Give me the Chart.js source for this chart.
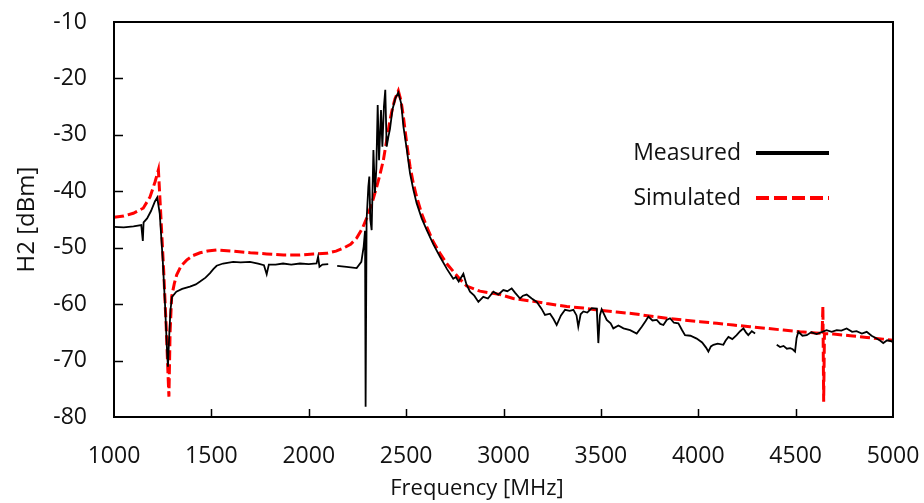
<!DOCTYPE html>
<html>
<head>
<meta charset="utf-8">
<script src="https://cdn.jsdelivr.net/npm/chart.js@4"></script>
<style>
  body { margin: 0; background: #fff; }
  #wrap { width: 924px; height: 503px; }
</style>
</head>
<body>
<div id="wrap"><canvas id="chart" width="924" height="503"></canvas></div>
<script>
// Measured H2 level (null = gap in the trace)
const measFreq = [1000, 1050, 1100, 1140, 1148, 1152, 1170, 1190, 1210, 1222, 1235, 1250, 1262, 1272, 1277, 1283, 1290, 1298, 1320, 1350, 1390, 1420, 1442, 1470, 1493, 1510, 1527, 1560, 1612, 1650, 1698, 1740, 1770, 1784, 1795, 1830, 1868, 1910, 1955, 2000, 2040, 2048, 2055, 2070, 2100,
  2120,
  2146, 2194, 2246, 2270, 2282, 2289, 2292, 2297, 2306, 2311, 2316, 2323, 2332, 2340, 2347, 2354, 2361, 2371, 2378, 2386, 2393, 2400, 2409, 2417, 2430, 2445, 2460, 2475, 2486, 2503, 2520, 2537, 2554, 2580, 2606, 2640, 2674, 2710, 2742, 2755, 2770, 2794, 2810, 2828, 2850, 2871, 2896, 2920, 2948, 2973, 2999, 3020, 3042, 3060, 3085, 3100, 3119, 3145, 3171, 3195, 3213, 3239, 3256, 3273, 3295, 3316, 3340, 3359, 3375, 3384, 3396, 3410, 3430, 3453, 3479, 3487, 3495, 3504, 3530, 3550, 3564, 3590, 3616, 3650, 3684, 3710, 3730, 3744, 3765, 3787, 3805, 3821, 3838, 3855, 3875, 3898, 3915, 3932, 3960, 3992, 4020, 4040, 4052, 4065, 4078, 4100, 4129, 4140, 4155, 4175, 4197, 4215, 4232, 4245, 4257, 4275, 4292,
  4350,
  4403, 4420, 4438, 4455, 4472, 4485, 4497, 4505, 4514, 4535, 4557, 4580, 4608, 4630, 4659, 4685, 4711, 4735, 4762, 4790, 4813, 4840, 4865, 4890, 4916, 4935, 4950, 4970, 4993, 5000];
const measDb = [-46.3, -46.4, -46.2, -46.0, -48.8, -45.5, -44.8, -43.5, -41.8, -41.1, -44, -52, -60, -68, -71.1, -66, -61, -58.7, -57.8, -57.3, -56.9, -56.5, -56.0, -55.3, -54.5, -53.8, -53.2, -52.8, -52.5, -52.6, -52.5, -52.8, -53.1, -54.7, -53.0, -53.0, -52.8, -53.0, -52.8, -52.9, -52.8, -51.6, -53.4, -53.0, -52.9,
  null,
  -53.2, -53.4, -53.6, -52.5, -49.8, -47, -78.2, -45.1, -39.2, -37.4, -45, -46.9, -32.7, -40.3, -36, -24.7, -34.5, -25.6, -32.1, -25.0, -22.0, -32.1, -30.3, -29, -25.5, -23.5, -22.5, -24.5, -28.5, -32.5, -36.8, -39.7, -42.1, -44.8, -46.9, -49.4, -51.6, -53.8, -55.5, -55.2, -56.0, -54.6, -56.5, -57.8, -58.5, -59.6, -58.7, -59.0, -57.8, -58.3, -57.5, -57.7, -57.2, -58.0, -59.0, -58.5, -58.3, -59.0, -59.6, -60.8, -61.9, -61.7, -62.6, -63.7, -62.0, -61.0, -61.2, -61.0, -62.0, -64.0, -61.8, -61.3, -61.5, -60.7, -60.8, -66.9, -62.0, -60.9, -62.8, -63.4, -64.3, -63.8, -64.3, -64.6, -65.2, -64.0, -63.0, -62.2, -62.9, -62.8, -63.5, -63.7, -62.8, -62.5, -63.3, -63.4, -64.5, -65.5, -65.6, -66.1, -66.8, -67.7, -68.4, -67.5, -67.2, -67.0, -67.2, -66.5, -65.8, -66.2, -65.5, -64.8, -64.3, -65.0, -65.5, -64.8, -65.2,
  null,
  -67.2, -67.6, -67.4, -67.9, -67.8, -68.0, -68.4, -66.0, -64.9, -65.6, -65.5, -65.0, -65.3, -65.0, -64.6, -64.9, -64.6, -64.7, -64.3, -64.9, -64.8, -65.2, -64.9, -65.6, -66.1, -66.5, -66.9, -66.4, -66.6, -66.8];

// Simulated H2 level
const simFreq = [1000, 1050, 1099, 1150, 1185, 1211, 1228, 1240, 1255, 1268, 1278, 1282, 1288, 1296, 1310, 1322, 1345, 1373, 1405, 1442, 1480, 1527, 1612, 1700, 1784, 1870, 1955, 2023, 2092, 2140, 2177, 2215, 2246, 2275, 2297, 2323, 2349, 2366, 2383, 2400, 2417, 2432, 2443, 2460, 2474, 2486, 2503, 2520, 2537, 2554, 2580, 2606, 2640, 2674, 2708, 2742, 2780, 2811, 2879, 2982, 3050, 3153, 3222, 3325, 3410, 3496, 3580, 3667, 3750, 3838, 3920, 4009, 4095, 4180, 4265, 4352, 4437, 4523, 4600, 4636, 4640, 4644, 4648, 4694, 4780, 4865, 4950, 5000];
const simDb = [-44.6, -44.4, -43.9, -43.0, -41.0, -38.3, -36.2, -44, -54, -64, -73, -76.4, -65, -58.7, -56.3, -54.8, -53.2, -52.2, -51.4, -50.9, -50.6, -50.4, -50.6, -50.9, -51.1, -51.3, -51.3, -51.1, -51.0, -50.6, -50.1, -49.4, -48.3, -46.6, -44.8, -42.3, -39.2, -37.0, -34.5, -31.0, -27.4, -25.0, -23.6, -22.2, -24.0, -26.8, -31.5, -35.6, -38.6, -41.0, -44.0, -46.3, -49.0, -51.0, -52.8, -54.2, -55.7, -56.8, -57.7, -58.3, -59.0, -59.5, -59.9, -60.4, -60.7, -61.1, -61.4, -61.7, -62.1, -62.5, -62.8, -63.1, -63.4, -63.7, -64.0, -64.3, -64.6, -64.9, -65.1, -65.2, -60.4, -77.3, -65.2, -65.3, -65.6, -65.9, -66.2, -66.4];

const xTicks = [1000, 1500, 2000, 2500, 3000, 3500, 4000, 4500, 5000];
const yTicks = [-80, -70, -60, -50, -40, -30, -20, -10];

const FONT = "'Open Sans', 'Noto Sans', sans-serif";

const toPoints = (xs, ys) => xs.map((x, i) => ({ x: x, y: ys[i] }));

// frame, inward tick marks and the x axis title (sits left of centre)
const framePlugin = {
  id: 'frame',
  afterDraw(chart) {
    const { ctx, chartArea: a, scales } = chart;
    ctx.save();
    ctx.strokeStyle = '#000';
    ctx.lineWidth = 2;
    ctx.strokeRect(a.left, a.top, a.right - a.left, a.bottom - a.top);
    ctx.lineWidth = 1.5;
    ctx.beginPath();
    xTicks.slice(1, -1).forEach(v => {
      const px = Math.round(scales.x.getPixelForValue(v)) + 0.5;
      ctx.moveTo(px, a.bottom);
      ctx.lineTo(px, a.bottom - 8);
    });
    yTicks.slice(1, -1).forEach(v => {
      const py = Math.round(scales.y.getPixelForValue(v)) + 0.5;
      ctx.moveTo(a.left, py);
      ctx.lineTo(a.left + 9, py);
    });
    ctx.stroke();

    ctx.font = '22px ' + FONT;
    ctx.fillStyle = '#111';
    ctx.textAlign = 'center';
    ctx.textBaseline = 'middle';
    ctx.fillText('Frequency [MHz]', 477, 489);
    ctx.restore();
  }
};

// legend: text on the left, line sample on the right
const legendPlugin = {
  id: 'sideLegend',
  afterDraw(chart) {
    const { ctx } = chart;
    const items = chart.data.datasets;
    ctx.save();
    ctx.font = '23px ' + FONT;
    ctx.fillStyle = '#111';
    ctx.textBaseline = 'middle';
    items.forEach((ds, i) => {
      const y = 153 + i * 45;
      ctx.textAlign = 'right';
      ctx.fillText(ds.label, 741, y);
      ctx.strokeStyle = ds.borderColor;
      ctx.lineWidth = 4;
      ctx.setLineDash(ds.borderDash ? [13, 5] : []);
      ctx.beginPath();
      ctx.moveTo(756, y);
      ctx.lineTo(829, y);
      ctx.stroke();
    });
    ctx.restore();
  }
};

new Chart(document.getElementById('chart'), {
  type: 'line',
  data: {
    datasets: [{
      label: 'Measured',
      data: toPoints(measFreq, measDb),
      borderColor: '#000',
      borderWidth: 1.8,
      pointRadius: 0,
      tension: 0,
      spanGaps: false
    }, {
      label: 'Simulated',
      data: toPoints(simFreq, simDb),
      borderColor: '#ff0000',
      borderWidth: 3,
      borderDash: [10, 4],
      pointRadius: 0,
      tension: 0
    }]
  },
  options: {
    responsive: false,
    animation: false,
    layout: { padding: { top: 22, right: 31, left: 0, bottom: 0 } },
    plugins: {
      legend: { display: false },
      tooltip: { enabled: false }
    },
    scales: {
      x: {
        type: 'linear',
        min: 1000,
        max: 5000,
        afterFit: s => { s.height = 86; s.paddingLeft = 0; s.paddingRight = 0; },
        afterBuildTicks: s => { s.ticks = xTicks.map(v => ({ value: v })); },
        grid: { display: false, drawTicks: false },
        border: { display: false },
        ticks: {
          color: '#111',
          padding: 26,
          maxRotation: 0,
          callback: v => String(v),
          font: { family: FONT, size: 23 }
        },
        title: { display: false }
      },
      y: {
        min: -80,
        max: -10,
        afterFit: s => { s.width = 114; s.paddingTop = 0; s.paddingBottom = 0; },
        afterBuildTicks: s => { s.ticks = yTicks.map(v => ({ value: v })); },
        grid: { display: false, drawTicks: false },
        border: { display: false },
        ticks: {
          color: '#111',
          padding: 27,
          callback: v => String(v),
          font: { family: FONT, size: 23 }
        },
        title: {
          display: true,
          text: 'H2 [dBm]',
          color: '#111',
          padding: { top: 13, bottom: 0 },
          font: { family: FONT, size: 24 }
        }
      }
    }
  },
  plugins: [framePlugin, legendPlugin]
});
</script>
</body>
</html>
